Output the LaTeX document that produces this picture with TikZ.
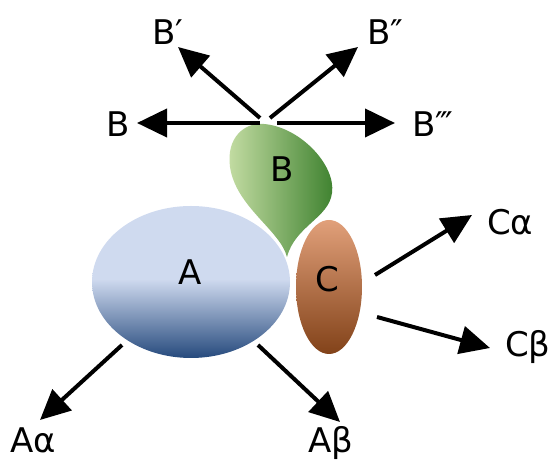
\documentclass[tikz,border=0pt]{standalone}
\usepackage{fontspec}
\setmainfont{DejaVu Sans}
\usetikzlibrary{arrows.meta,shapes.geometric}
\definecolor{Alight}{RGB}{207,218,239}
\definecolor{Adark}{RGB}{38,74,125}
\definecolor{Blight}{RGB}{198,222,165}
\definecolor{Bdark}{RGB}{60,128,45}
\definecolor{Ctop}{RGB}{225,160,122}
\definecolor{Cmid}{RGB}{200,112,62}
\definecolor{Cbot}{RGB}{130,66,25}
\pgfdeclareverticalshading{Ashade}{100bp}{color(0bp)=(Adark); color(25bp)=(Adark); color(51bp)=(Alight); color(100bp)=(Alight)}
\begin{document}
\begin{tikzpicture}[x=1pt,y=1pt,
  lbl/.style={inner sep=0pt,font=\fontsize{34}{40}\selectfont,anchor=base west},
  arr/.style={line width=4pt,-{Triangle[length=30pt,width=28pt]}},
  blob/.style={ellipse,inner sep=0pt,draw=none}]
\useasboundingbox (0,0) rectangle (554,462);
% protein A
\node[blob,minimum width=198pt,minimum height=152pt,shading=Ashade] (A) at (191,180) {};
% protein B
\shade[left color=Blight,right color=Bdark]
  (287,205) .. controls (280,232) and (236,255) .. (230,295)
  .. controls (226,325) and (245,340) .. (264,338)
  .. controls (300,335) and (336,297) .. (332,269)
  .. controls (329,244) and (295,236) .. (287,205) -- cycle;
% protein C
\node[blob,minimum width=66pt,minimum height=134pt,
  top color=Ctop,middle color=Cmid,bottom color=Cbot] (C) at (329,175) {};
% labels
\node[lbl,anchor=base] (Al) at (190,177) {A};
\node[lbl] (Bin) at (270,280) {B};
\node[lbl] (Cin) at (315,170) {C};
\node[lbl] (B0) at (106,325) {B};
\node[lbl] (B1) at (152,417) {B′};
\node[lbl] (B2) at (367,417) {B″};
\node[lbl] (B3) at (412,325) {B‴};
\node[lbl] (Ca) at (487,227) {Cα};
\node[lbl] (Cb) at (505,105) {Cβ};
\node[lbl] (Aa) at (10,9) {Aα};
\node[lbl] (Ab) at (308,9) {Aβ};
% connector ends
\coordinate (s0) at (260,339); \coordinate (t0) at (137,339);
\coordinate (s3) at (277,339); \coordinate (t3) at (395,339);
\coordinate (s1) at (260,344); \coordinate (t1) at (178,415);
\coordinate (s2) at (270,344); \coordinate (t2) at (358,415);
\coordinate (sa) at (375,187); \coordinate (ta) at (472,247);
\coordinate (sb) at (377,145); \coordinate (tb) at (490,114);
\coordinate (sA) at (122,117); \coordinate (tA) at (40,42);
\coordinate (sB) at (258,117); \coordinate (tB) at (340,40);
\draw[arr] (s0) -- (t0);
\draw[arr] (s3) -- (t3);
\draw[arr] (s1) -- (t1);
\draw[arr] (s2) -- (t2);
\draw[arr] (sa) -- (ta);
\draw[arr] (sb) -- (tb);
\draw[arr] (sA) -- (tA);
\draw[arr] (sB) -- (tB);
\end{tikzpicture}
\end{document}
